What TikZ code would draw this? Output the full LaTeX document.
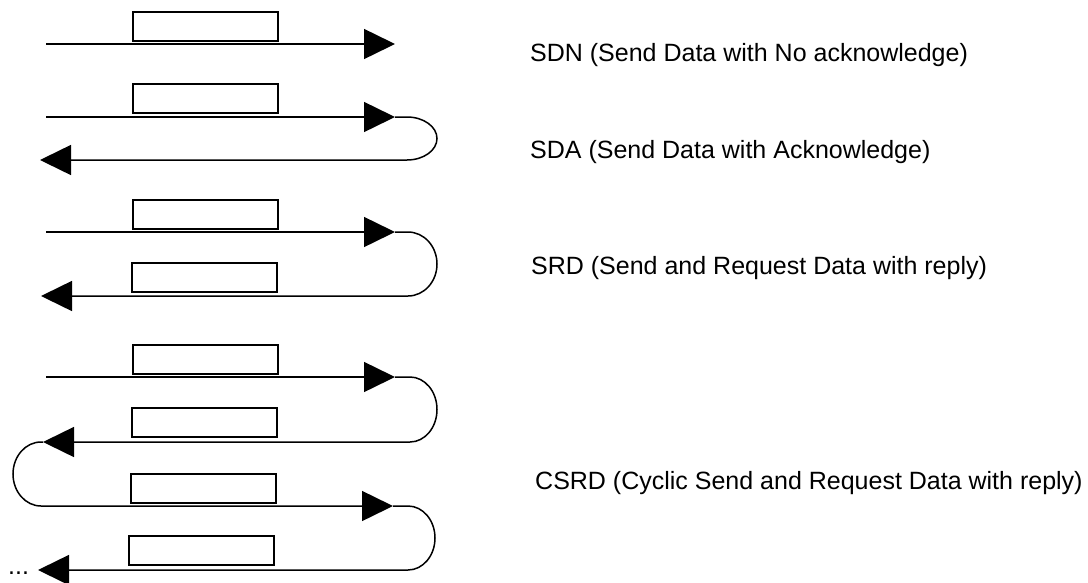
\documentclass[tikz,border=0pt]{standalone}
\usepackage{fontspec}
\setmainfont{Liberation Sans}
\usetikzlibrary{arrows.meta}
\begin{document}
\begin{tikzpicture}[x=1pt,y=-1pt,
  frame/.style={draw, line width=2pt, minimum width=145pt, minimum height=29pt, inner sep=0pt, outer sep=0pt},
  wire/.style={line width=1.5pt},
  flow/.style={wire, -{Triangle[length=31pt,width=30pt]}},
  caption/.style={anchor=base west, inner sep=0pt, font=\fontsize{25}{30}\selectfont}]
\useasboundingbox (0,0) rectangle (1088,582);

% SDN
\coordinate (a1s) at (46,44);
\coordinate (a1t) at (395,44);
\node[frame] (b1) at (205.5,26) {};
\draw[flow] (a1s) -- (a1t);
\node[caption] (t1) at (530,61) {SDN (Send Data with No acknowledge)};

% SDA
\coordinate (a2s) at (46,117);
\coordinate (a2t) at (395,117);
\coordinate (a2r) at (407,117);
\coordinate (a2e) at (40,160);
\node[frame] (b2) at (205.5,98) {};
\draw[flow] (a2s) -- (a2t);
\draw[flow] (a2t) -- (a2r) arc[start angle=90, end angle=-90, x radius=30pt, y radius=21.5pt] -- (a2e);
\node[caption] (t2) at (530,158) {SDA (Send Data with Acknowledge)};

% SRD
\coordinate (a3s) at (46,232);
\coordinate (a3t) at (395,232);
\coordinate (a3r) at (408,232);
\coordinate (a3e) at (41,296);
\node[frame] (b3) at (205.5,214) {};
\node[frame] (b4) at (204.5,277.5) {};
\draw[flow] (a3s) -- (a3t);
\draw[flow] (a3t) -- (a3r) arc[start angle=90, end angle=-90, x radius=29pt, y radius=32pt] -- (a3e);
\node[caption] (t3) at (531,274) {SRD (Send and Request Data with reply)};

% CSRD
\coordinate (a4s) at (46,377);
\coordinate (a4t) at (395,377);
\coordinate (a4r) at (410,377);
\coordinate (a5t) at (43,442);
\coordinate (a5l) at (41,442);
\coordinate (a6t) at (393,506);
\coordinate (a6r) at (408,506);
\coordinate (a7t) at (38,570);
\node[frame] (b5) at (205.5,359) {};
\node[frame] (b6) at (204.5,422.5) {};
\node[frame] (b7) at (203,488) {};
\node[frame] (b8) at (201.5,550.5) {};
\draw[flow] (a4s) -- (a4t);
\draw[flow] (a4t) -- (a4r) arc[start angle=90, end angle=-90, x radius=27pt, y radius=32.5pt] -- (a5t);
\draw[flow] (a5t) -- (a5l) arc[start angle=90, end angle=270, x radius=28pt, y radius=32pt] -- (a6t);
\draw[flow] (a6t) -- (a6r) arc[start angle=90, end angle=-90, x radius=27pt, y radius=32pt] -- (a7t);
\node[caption] (t4) at (535,489) {CSRD (Cyclic Send and Request Data with reply)};
\node[caption] (dots) at (8,574) {...};
\end{tikzpicture}
\end{document}
